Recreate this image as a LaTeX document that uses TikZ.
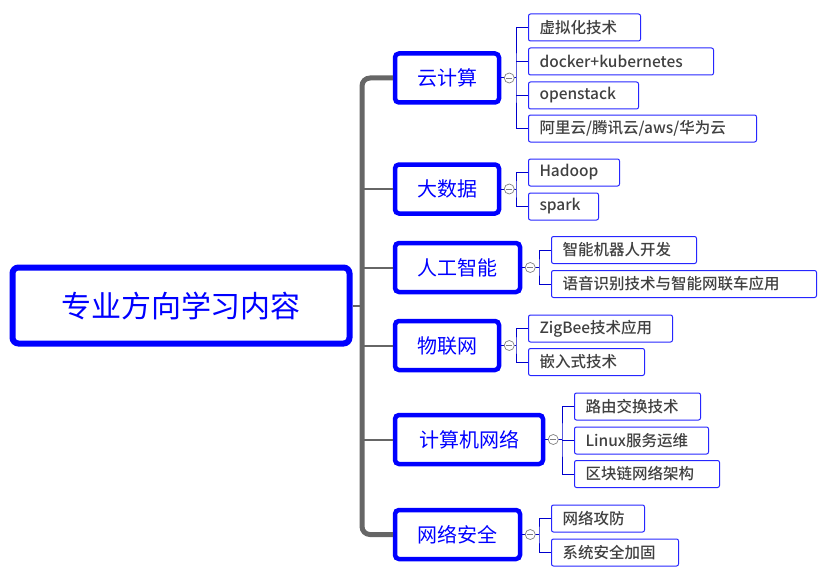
\documentclass[tikz,border=0pt]{standalone}
\usepackage{fontspec}
\newfontfamily\cjk{Noto Sans CJK SC}
\newfontfamily\cjkm{Noto Sans CJK SC Medium}
\begin{document}
\begin{tikzpicture}[x=1pt,y=-1pt,
  central/.style={draw=blue,line width=6pt,rounded corners=6pt,minimum width=337pt,minimum height=76pt,font=\cjk\fontsize{30}{32}\selectfont,text=blue},
  branch/.style={draw=blue,line width=4.5pt,rounded corners=4pt,minimum height=49pt,font=\cjk\fontsize{20}{22}\selectfont,text=blue},
  leaf/.style={draw=blue!85!white,line width=1pt,rounded corners=2pt,minimum height=27pt,anchor=west,inner xsep=11pt,align=left,font=\cjkm\fontsize{15.5}{17}\selectfont,text=black!75},
  trunk/.style={draw=black!60,line width=2pt},
  brk/.style={draw=blue!80!black,line width=1pt},
  tog/.style={circle,draw=black!50,fill=white,inner sep=0pt,minimum size=10pt,line width=0.7pt}]
\useasboundingbox (0,0) rectangle (828,578);
\node[central] (c) at (181,305.5) {专业方向学习内容};
\node[branch,minimum width=104pt] (b1) at (447,78) {云计算};
\node[branch,minimum width=104pt] (b2) at (447,189) {大数据};
\node[branch,minimum width=125pt] (b3) at (457.5,267.5) {人工智能};
\node[branch,minimum width=104pt] (b4) at (447,345.5) {物联网};
\node[branch,minimum width=148pt] (b5) at (469,439.5) {计算机网络};
\node[branch,minimum width=125pt] (b6) at (457.5,534.5) {网络安全};
% trunk
\draw[trunk] (c.east) -- (362,305.5);
\draw[draw=black!60,line width=5pt,rounded corners=8pt] (b1.west) -- (362,78) -- (362,534.5) -- (b6.west);
\draw[trunk] (362,189) -- (b2.west);
\draw[trunk] (362,267.5) -- (b3.west);
\draw[trunk] (362,345.5) -- (b4.west);
\draw[trunk] (362,439.5) -- (b5.west);
% leaves
\node[leaf,text width=90pt] (l11) at (528,27.5) {虚拟化技术};
\node[leaf,text width=163pt] (l12) at (528,61.5) {docker+kubernetes};
\node[leaf,text width=88pt] (l13) at (528,95.5) {openstack};
\node[leaf,text width=206pt] (l14) at (528,128.5) {阿里云/腾讯云/aws/华为云};
\node[leaf,text width=69pt] (l21) at (528,172.5) {Hadoop};
\node[leaf,text width=48pt] (l22) at (528,206.5) {spark};
\node[leaf,text width=123pt] (l31) at (551,250) {智能机器人开发};
\node[leaf,text width=243pt] (l32) at (551,284) {语音识别技术与智能网联车应用};
\node[leaf,text width=122pt] (l41) at (528,328.5) {ZigBee技术应用};
\node[leaf,text width=94pt] (l42) at (528,362) {嵌入式技术};
\node[leaf,text width=104pt] (l51) at (574,406.5) {路由交换技术};
\node[leaf,text width=112pt] (l52) at (574,440.5) {Linux服务运维};
\node[leaf,text width=123pt] (l53) at (574,474) {区块链网络架构};
\node[leaf,text width=71pt] (l61) at (551,518.5) {网络攻防};
\node[leaf,text width=105pt] (l62) at (551,552.5) {系统安全加固};
% brackets
\foreach \b/\x/\f/\l/\m in {b1/516/l11/l14/{l12,l13},b2/516/l21/l22/{},b3/539/l31/l32/{},b4/516/l41/l42/{},b5/562/l51/l53/{l52},b6/539/l61/l62/{}}{
  \draw[brk] (\b.east) -- (\x,0 |- \b.east);
  \draw[brk] (\f.west) -| (\x,0 |- \b.east) |- (\l.west);
  \foreach \mm in \m {\draw[brk] (\x,0 |- \mm.west) -- (\mm.west);}
  \node[tog] at ([xshift=8pt]\b.east) {};
  \draw[black!50,line width=0.6pt] ([xshift=5pt]\b.east) -- ([xshift=11pt]\b.east);
}
\end{tikzpicture}
\end{document}
